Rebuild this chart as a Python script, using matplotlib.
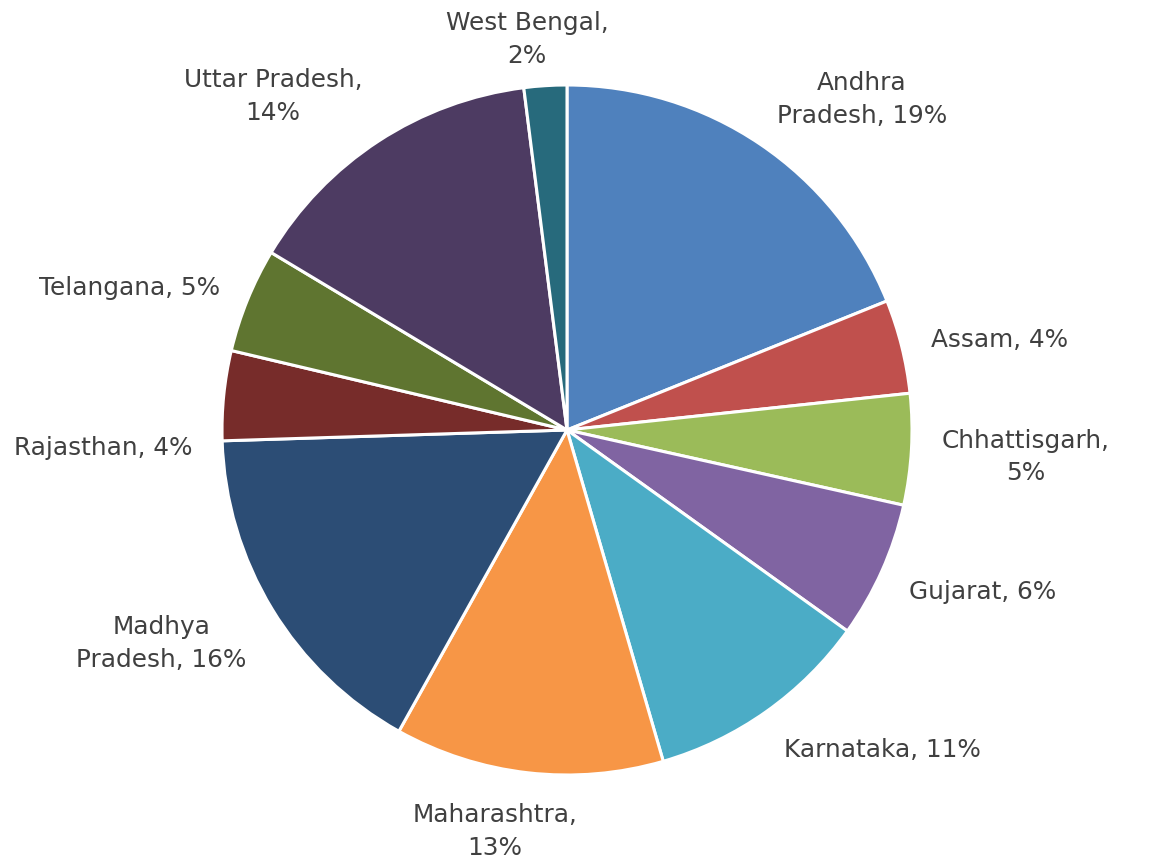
import numpy as np
import matplotlib
matplotlib.use("Agg")
import matplotlib.pyplot as plt

states = ["Andhra Pradesh", "Assam", "Chhattisgarh", "Gujarat", "Karnataka",
          "Maharashtra", "Madhya Pradesh", "Rajasthan", "Telangana",
          "Uttar Pradesh", "West Bengal"]
share = [18.9, 4.4, 5.2, 6.4, 10.6, 12.6, 16.4, 4.2, 4.9, 14.4, 2.0]
# label text as excel wrapped it
labels = ["Andhra\nPradesh, 19%", "Assam, 4%", "Chhattisgarh,\n5%", "Gujarat, 6%",
          "Karnataka, 11%", "Maharashtra,\n13%", "Madhya\nPradesh, 16%",
          "Rajasthan, 4%", "Telangana, 5%", "Uttar Pradesh,\n14%", "West Bengal,\n2%"]
colors = ["#4F81BD", "#C0504D", "#9BBB59", "#8064A2", "#4BACC6", "#F79646",
          "#2C4D75", "#772C2A", "#5F7530", "#4D3B62", "#276A7C"]
# excel moved this one label off its wedge's mid angle (degrees)
label_nudge = [0, 0, 0, 0, 0, 0, 0, 7.8, 0, 0, 0]

W, H = 1150, 867
cx, cy, R = 567, 430, 345   # pie centre / radius in pixels

fig = plt.figure(figsize=(W / 100, H / 100), dpi=100)
ax = fig.add_axes([0, 0, 1, 1])

wedges, _ = ax.pie(share, colors=colors, startangle=90, counterclock=False,
                   wedgeprops=dict(edgecolor="white", linewidth=2.2))
ax.set_aspect("auto")
ax.set_xlim(-cx / R, (W - cx) / R)
ax.set_ylim(-(H - cy) / R, cy / R)
ax.axis("off")

fig.canvas.draw()
renderer = fig.canvas.get_renderer()
r_lab = 1.087
margin = 7 / R
drop = 4 / R     # text box includes descent, nudge down a touch
x_lo, x_hi = -cx / R + margin, (W - cx) / R - margin
y_lo, y_hi = -(H - cy) / R + margin, cy / R - margin - drop
for w, lab, nudge in zip(wedges, labels, label_nudge):
    th = np.deg2rad((w.theta1 + w.theta2) / 2 + nudge)
    t = ax.text(0, 0, lab, ha="left", va="bottom", fontsize=17.8,
                family="DejaVu Sans", color="#404040", linespacing=1.45,
                multialignment="center")
    bb = t.get_window_extent(renderer)
    bw, bh = bb.width / R, bb.height / R
    # box corner/edge facing the pie sits on a ring round it
    px, py = r_lab * np.cos(th), r_lab * np.sin(th)
    fx = np.clip(0.5 - 1.6 * np.cos(th), 0, 1)
    fy = np.clip(0.5 - 0.5 * np.sin(th), 0, 1)
    left = np.clip(px - fx * bw, x_lo, x_hi - bw)
    bottom = np.clip(py - fy * bh - drop, y_lo, y_hi - bh)
    t.set_position((left, bottom))

fig.savefig("out.png", dpi=100)
